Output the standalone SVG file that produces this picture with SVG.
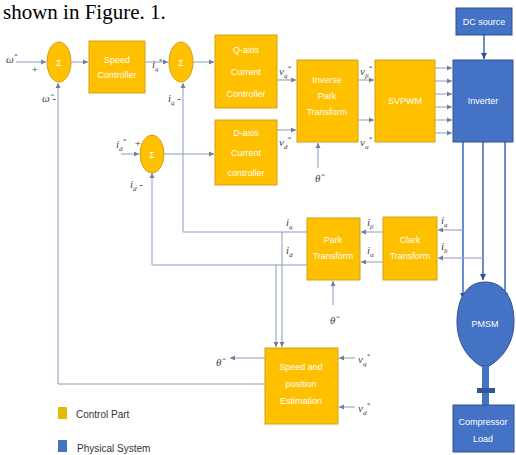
<svg xmlns="http://www.w3.org/2000/svg" width="516" height="455" viewBox="0 0 516 455">
<defs>
<style>
.o{fill:#FFC000;stroke:#D4A017;stroke-width:1}
.b{fill:#4472C4;stroke:#2F528F;stroke-width:1}
.t{font-family:"Liberation Sans Narrow","Liberation Sans",Arial,sans-serif;font-size:9px;fill:#ffffff;text-anchor:middle}
.l{font-family:"Liberation Serif","Times New Roman",serif;font-style:italic;font-size:11px;fill:#444}
.s{font-size:7px}
.c{fill:none;stroke:#8A9BC0;stroke-width:1}
.p{fill:none;stroke:#4472C4;stroke-width:1.6}
.lg{font-family:"Liberation Sans Narrow","Liberation Sans",Arial,sans-serif;font-size:10px;fill:#333}
</style>
<marker id="a" markerWidth="6" markerHeight="6" refX="5" refY="3" orient="auto" markerUnits="userSpaceOnUse">
<path d="M0,0.5 L5,3 L0,5.5 z" fill="#6F7F9F"/>
</marker>
<marker id="ab" markerWidth="7" markerHeight="7" refX="6" refY="3.5" orient="auto" markerUnits="userSpaceOnUse">
<path d="M0,0.5 L6,3.5 L0,6.5 z" fill="#2F528F"/>
</marker>
</defs>
<rect width="516" height="455" fill="#ffffff"/>
<text x="3" y="19" font-family="Liberation Serif,Times New Roman,serif" font-size="21" fill="#000">shown in Figure. 1.</text>

<g id="connectors">
<path class="c" d="M16,62 H46" marker-end="url(#a)"/>
<path class="c" d="M71,62 H88" marker-end="url(#a)"/>
<path class="c" d="M145,62 H168" marker-end="url(#a)"/>
<path class="c" d="M193,62 H214" marker-end="url(#a)"/>
<path class="c" d="M277,80 H296" marker-end="url(#a)"/>
<path class="c" d="M277,130 H296" marker-end="url(#a)"/>
<path class="c" d="M358,80 H374" marker-end="url(#a)"/>
<path class="c" d="M358,120 H374" marker-end="url(#a)"/>
<path class="c" d="M435,68 H452" marker-end="url(#a)"/>
<path class="c" d="M435,81 H452" marker-end="url(#a)"/>
<path class="c" d="M435,94 H452" marker-end="url(#a)"/>
<path class="c" d="M435,107 H452" marker-end="url(#a)"/>
<path class="c" d="M435,120 H452" marker-end="url(#a)"/>
<path class="c" d="M435,133 H452" marker-end="url(#a)"/>
<path class="p" d="M484,35 V59" marker-end="url(#ab)"/>
<path class="c" d="M318,168 V143" marker-end="url(#a)"/>
<path class="c" d="M121,154 H139" marker-end="url(#a)"/>
<path class="c" d="M164,154 H214" marker-end="url(#a)"/>
<path class="p" d="M463,142 V299" marker-end="url(#ab)"/>
<path class="p" d="M483,142 V280" marker-end="url(#ab)"/>
<path class="p" d="M505,142 V299" marker-end="url(#ab)"/>
<path class="c" d="M463,230 H438" marker-end="url(#a)"/>
<path class="c" d="M484,258 H438" marker-end="url(#a)"/>
<path class="c" d="M383,232 H361" marker-end="url(#a)"/>
<path class="c" d="M383,262 H361" marker-end="url(#a)"/>
<path class="c" d="M307,232 H183 V83" marker-end="url(#a)"/>
<path class="c" d="M307,265 H152 V173" marker-end="url(#a)"/>
<path class="c" d="M282,232 V347" marker-end="url(#a)"/>
<path class="c" d="M276,265 V347" marker-end="url(#a)"/>
<path class="c" d="M333,305 V281" marker-end="url(#a)"/>
<path class="c" d="M355,358 H339" marker-end="url(#a)"/>
<path class="c" d="M355,407 H339" marker-end="url(#a)"/>
<path class="c" d="M265,358 H230" marker-end="url(#a)"/>
<path class="c" d="M265,384 H58 V83" marker-end="url(#a)"/>
</g>

<g id="sum1"><ellipse class="o" cx="59" cy="62" rx="12" ry="20"/><text class="t" x="59" y="66" font-size="11">Σ</text></g>
<g id="speed-controller"><rect class="o" x="89" y="41" width="56" height="52"/><text class="t" x="117" y="63">Speed</text><text class="t" x="117" y="78">Controller</text></g>
<g id="sum2"><ellipse class="o" cx="181" cy="62" rx="12" ry="20"/><text class="t" x="181" y="66" font-size="11">Σ</text></g>
<g id="q-axis"><rect class="o" x="215" y="35" width="62" height="73"/><text class="t" x="246" y="53">Q-axis</text><text class="t" x="246" y="75">Current</text><text class="t" x="246" y="97">Controller</text></g>
<g id="sum3"><ellipse class="o" cx="152" cy="154" rx="12" ry="19"/><text class="t" x="152" y="158" font-size="11">Σ</text></g>
<g id="d-axis"><rect class="o" x="215" y="120" width="62" height="65"/><text class="t" x="246" y="136">D-axis</text><text class="t" x="246" y="156">Current</text><text class="t" x="246" y="176">controller</text></g>
<g id="inverse-park"><rect class="o" x="297" y="60" width="61" height="82"/><text class="t" x="327" y="83">Inverse</text><text class="t" x="327" y="99">Park</text><text class="t" x="327" y="115">Transform</text></g>
<g id="svpwm"><rect class="o" x="375" y="60" width="60" height="82"/><text class="t" x="405" y="104">SVPWM</text></g>
<g id="dc-source"><rect class="b" x="456" y="8" width="56" height="27"/><text class="t" x="484" y="25">DC source</text></g>
<g id="inverter"><rect class="b" x="453" y="60" width="60" height="82"/><text class="t" x="483" y="104">Inverter</text></g>
<g id="park"><rect class="o" x="307" y="218" width="53" height="62"/><text class="t" x="333" y="243">Park</text><text class="t" x="333" y="259">Transform</text></g>
<g id="clark"><rect class="o" x="383" y="217" width="54" height="63"/><text class="t" x="410" y="243">Clark</text><text class="t" x="410" y="259">Transform</text></g>
<g id="pmsm"><path class="b" d="M485,282 C505,282 514,300 514,322 C514,345 500,360 489,366 L481,366 C470,360 457,345 457,322 C457,300 466,282 485,282 Z"/><text class="t" x="485" y="327">PMSM</text></g>
<g id="shaft"><rect x="482" y="366" width="7" height="39" fill="#4472C4"/><rect x="477" y="388" width="18" height="5" fill="#2F5597"/></g>
<g id="compressor"><rect class="b" x="453" y="405" width="61" height="47"/><text class="t" x="483" y="425">Compressor</text><text class="t" x="483" y="442">Load</text></g>
<g id="estimation"><rect class="o" x="265" y="348" width="73" height="76"/><text class="t" x="301" y="370">Speed and</text><text class="t" x="301" y="387">position</text><text class="t" x="301" y="404">Estimation</text></g>

<g id="labels">
<text class="l" x="6" y="63">ω<tspan class="s" dy="-5">*</tspan></text>
<text class="l" x="31" y="73" font-style="normal">+</text>
<text class="l" x="42" y="102">ω̂ <tspan font-style="normal">-</tspan></text>
<text class="l" x="152" y="68">i<tspan class="s" dy="3">q</tspan><tspan class="s" dy="-8">*</tspan></text>
<text class="l" x="168" y="102">i<tspan class="s" dy="3">q</tspan><tspan font-style="normal" dy="-3"> -</tspan></text>
<text class="l" x="116" y="148">i<tspan class="s" dy="3">d</tspan><tspan class="s" dy="-8">*</tspan></text>
<text class="l" x="134" y="147" font-style="normal">+</text>
<text class="l" x="130" y="188">i<tspan class="s" dy="3">d</tspan><tspan font-style="normal" dy="-3"> -</tspan></text>
<text class="l" x="279" y="75">v<tspan class="s" dy="3">q</tspan><tspan class="s" dy="-8">*</tspan></text>
<text class="l" x="279" y="146">v<tspan class="s" dy="3">d</tspan><tspan class="s" dy="-8">*</tspan></text>
<text class="l" x="360" y="75">v<tspan class="s" dy="3">β</tspan><tspan class="s" dy="-8">*</tspan></text>
<text class="l" x="360" y="146">v<tspan class="s" dy="3">α</tspan><tspan class="s" dy="-8">*</tspan></text>
<text class="l" x="315" y="182">θ̂</text>
<text class="l" x="286" y="226">i<tspan class="s" dy="3">q</tspan></text>
<text class="l" x="286" y="254">i<tspan class="s" dy="3">d</tspan></text>
<text class="l" x="367" y="226">i<tspan class="s" dy="3">β</tspan></text>
<text class="l" x="367" y="254">i<tspan class="s" dy="3">α</tspan></text>
<text class="l" x="441" y="224">i<tspan class="s" dy="3">a</tspan></text>
<text class="l" x="441" y="250">i<tspan class="s" dy="3">b</tspan></text>
<text class="l" x="330" y="324">θ̂</text>
<text class="l" x="216" y="366">θ̂</text>
<text class="l" x="358" y="363">v<tspan class="s" dy="3">q</tspan><tspan class="s" dy="-8">*</tspan></text>
<text class="l" x="358" y="412">v<tspan class="s" dy="3">d</tspan><tspan class="s" dy="-8">*</tspan></text>
</g>

<g id="legend">
<rect x="58" y="407" width="9" height="12" fill="#E6B800"/>
<text class="lg" x="76" y="418">Control Part</text>
<rect x="58" y="440" width="9" height="12" fill="#4472C4"/>
<text class="lg" x="77" y="452">Physical System</text>
</g>
</svg>
